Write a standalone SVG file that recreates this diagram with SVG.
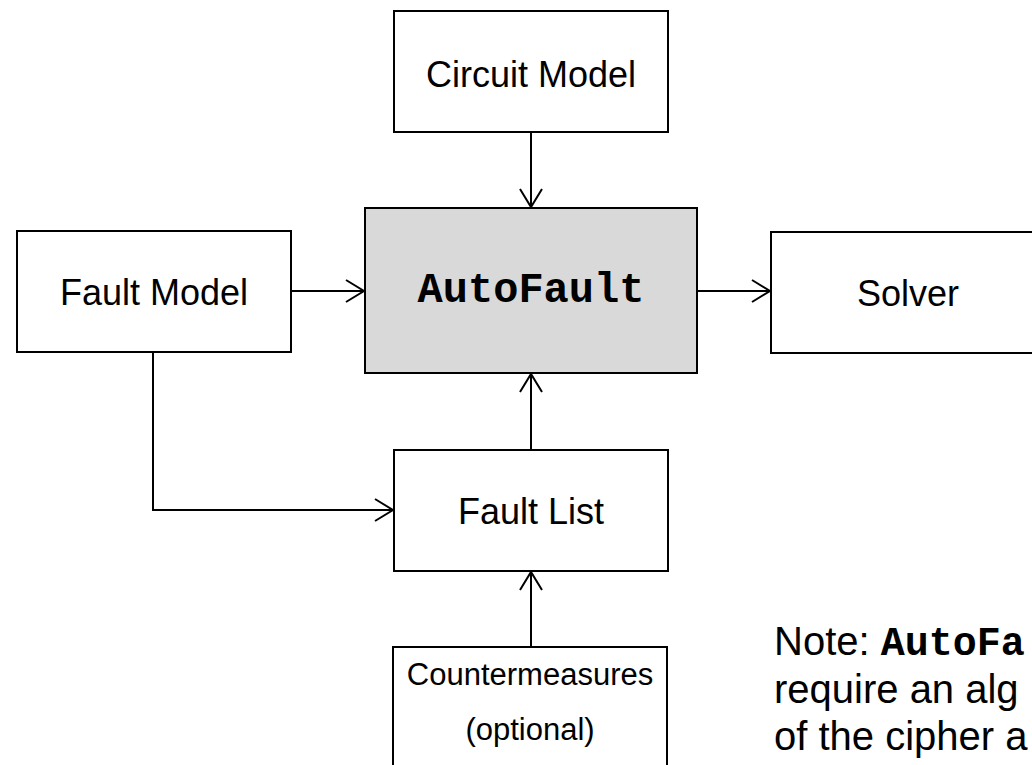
<svg xmlns="http://www.w3.org/2000/svg" width="1032" height="765" viewBox="0 0 1032 765">
<style>
.box{fill:#ffffff;stroke:#000000;stroke-width:2}
.main{fill:#d9d9d9;stroke:#000000;stroke-width:2}
.lbl{font-family:"Liberation Sans",Arial,sans-serif;font-size:36px;fill:#000;text-anchor:middle}
.small{font-family:"Liberation Sans",Arial,sans-serif;font-size:31px;fill:#000;text-anchor:middle}
.mono{font-family:"Liberation Mono","Courier New",monospace;font-weight:bold}
.conn{fill:none;stroke:#000;stroke-width:2}
.note{font-family:"Liberation Sans",Arial,sans-serif;font-size:40px;fill:#000}
</style>
<defs>
<marker id="arr" markerUnits="userSpaceOnUse" markerWidth="24" markerHeight="28" viewBox="-20 -14 22 28" refX="0" refY="0" orient="auto">
<path d="M-18,-11 L0,0 L-18,11" fill="none" stroke="#000" stroke-width="2"/>
</marker>
</defs>
<g id="connectors">
<line class="conn" x1="531" y1="132" x2="531" y2="207" marker-end="url(#arr)"/>
<line class="conn" x1="291" y1="291" x2="364" y2="291" marker-end="url(#arr)"/>
<line class="conn" x1="697" y1="291" x2="770" y2="291" marker-end="url(#arr)"/>
<polyline class="conn" points="153,352 153,510 393,510" marker-end="url(#arr)"/>
<line class="conn" x1="531" y1="450" x2="531" y2="374" marker-end="url(#arr)"/>
<line class="conn" x1="531" y1="647" x2="531" y2="572" marker-end="url(#arr)"/>
</g>
<g id="circuit-model">
<rect class="box" x="394" y="11" width="274" height="121"/>
<text class="lbl" x="531" y="87">Circuit Model</text>
</g>
<g id="fault-model">
<rect class="box" x="17" y="231" width="274" height="121"/>
<text class="lbl" x="154" y="305">Fault Model</text>
</g>
<g id="autofault">
<rect class="main" x="365" y="208" width="332" height="165"/>
<text class="mono" x="531" y="302" font-size="42" text-anchor="middle">AutoFault</text>
</g>
<g id="solver">
<rect class="box" x="771" y="232" width="274" height="121"/>
<text class="lbl" x="908" y="306">Solver</text>
</g>
<g id="fault-list">
<rect class="box" x="394" y="450" width="274" height="121"/>
<text class="lbl" x="531" y="524">Fault List</text>
</g>
<g id="countermeasures">
<rect class="box" x="393" y="647" width="274" height="125"/>
<text class="small" x="530" y="685">Countermeasures</text>
<text class="small" x="530" y="740">(optional)</text>
</g>
<g id="note">
<text class="note" x="774" y="655">Note: <tspan class="mono">AutoFa</tspan></text>
<text class="note" x="774" y="703">require an alg</text>
<text class="note" x="774" y="750">of the cipher a</text>
</g>
</svg>
